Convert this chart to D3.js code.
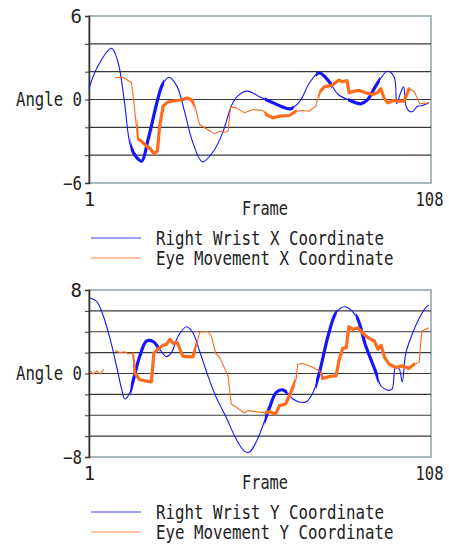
<!DOCTYPE html>
<html>
<head>
<meta charset="utf-8">
<script src="https://cdn.jsdelivr.net/npm/d3@7"></script>
<style>
  body { margin: 0; background: #fff; }
  text { font-family: "DejaVu Sans Mono", monospace; font-size: 19px; fill: #222; }
</style>
</head>
<body>
<svg id="chart" width="449" height="544"></svg>
<script>
// frame / angle pairs
const wristX = [[1,0.77],[3.5,2.28],[8,3.68],[10,2.75],[12,0],[14,-3.35],[16,-4.19],[17.5,-4.43],[19.5,-2.87],
  [22.5,0],[24,1.08],[26,1.6],[28.5,0.96],[31,-0.96],[33.5,-3.1],[36.5,-4.48],[40,-3.7],[43,-2.28],[45.5,-0.48],
  [47.5,0.24],[50.5,0.6],[54,0.24],[57.5,-0.12],[61,-0.48],[64,-0.67],[67,-0.12],[70,1.2],[73,1.92],[76,1.32],
  [79,0.36],[82.5,-0.05],[86,-0.31],[88,-0.05],[91,1.08],[94.4,2.03],[96.5,1.6],[97.3,-0.3],[98.3,0.36],
  [99.4,0.91],[100.2,-0.5],[101.2,-0.84],[102.3,-0.86],[103.7,-0.5],[105.3,-0.43],[107.4,-0.24]];
const eyeX = [[9,1.56],[11.7,1.6],[14.3,1.2],[15.3,-0.72],[16.2,-2.83],[17.4,-3.0],[19,-3.35],[20.2,-3.55],
  [21.3,-3.88],[22.4,-3.71],[23.1,-1.92],[24.2,-0.48],[25.7,-0.17],[28.4,-0.07],[30.4,0],[31.5,0.1],[33,0],
  [34.1,-0.43],[35.6,-1.8],[37.7,-2.1],[40.3,-2.47],[41.9,-2.28],[43.4,-2.35],[44.5,-2.28],[45.3,-0.53],
  [47.1,-0.6],[49.7,-0.96],[52.3,-0.72],[55.4,-0.79],[56.4,-1.08],[58.5,-1.32],[60.6,-1.2],[63.7,-1.15],
  [65.8,-0.84],[67.8,-0.79],[69.9,-0.84],[72,-0.48],[73,0.48],[74.6,0.91],[77.2,1.03],[78.3,1.25],[79.3,1.39],
  [80.3,1.27],[81.7,1.36],[82.4,0.48],[84,0.6],[85.5,0.65],[87.6,0.48],[89.7,0.36],[91.2,0.48],[92.3,0.77],
  [93.3,0.12],[94.4,-0.24],[96.4,-0.07],[98,-0.12],[99.6,-0.12],[101.1,0.77],[102.7,0.6],[104.5,-0.31],[107.3,-0.24]];
const wristY = [[1.3,7.24],[3.4,6.92],[5.5,5.49],[7.5,3.43],[9.6,0.73],[11.2,-1.49],[12.2,-2.44],[13.6,-1.97],
  [14.8,-0.7],[16.9,1.68],[19,3.11],[21.1,3.05],[23.1,2.32],[25.2,1.62],[26.8,2.0],[28.9,3.59],[31.5,4.48],
  [33.5,3.9],[35.6,2.16],[38.2,-0.22],[40.8,-2.29],[43.9,-4.19],[47,-6.25],[49.7,-7.46],[51.2,-7.52],
  [53.3,-6.57],[55.4,-4.98],[57.5,-3.24],[59.6,-1.81],[61.6,-1.56],[62.9,-1.81],[64.8,-2.44],[67.3,-2.76],
  [69,-2.7],[71.1,-1.81],[73.1,0.1],[75.8,3.59],[78.3,5.81],[81,6.39],[84.6,5.49],[87.6,2.63],[90.8,0.1],
  [92.4,-1.2],[94.4,-1.6],[95.8,-1.5],[96.9,0.64],[98,0.48],[99,-0.8],[100.1,1.92],[102.2,3.83],
  [104.8,5.58],[106.8,6.45],[107.4,6.54]];
const eyeY = [[1.3,0.25],[2.3,-0.06],[3.4,0.25],[4.4,-0.06],[5.6,0.41],[7,null],
  [9.1,2.2],[10.7,2.0],[12.2,2.08],[13.3,1.9],[14.6,1.94],[15.3,0.05],[16.9,-0.6],[18.5,-0.7],[20.5,-0.8],
  [21.3,1.95],[22.6,2.35],[24.2,2.7],[25.2,2.79],[26.3,3.27],[27.3,2.89],[28.6,2.95],[30.4,1.64],[32,1.62],
  [33.5,1.6],[34.6,2.63],[35.6,3.97],[38.2,4.03],[39.3,3.59],[40.6,1.94],[41.9,1.52],[44.5,-0.22],[45.5,-2.92],
  [47.1,-3.24],[49.7,-3.78],[50.7,-3.56],[53.3,-3.65],[55.9,-3.78],[57.5,-3.65],[59.4,-3.9],[60.6,-3.08],
  [62.5,-2.92],[63.7,-2.13],[65.8,-0.54],[66.3,0.89],[67.9,0.95],[70.5,0.67],[73.1,0.25],[74.1,-0.48],
  [76.2,-0.29],[78.3,-0.22],[79.3,1.37],[80.4,2.41],[81.5,2.48],[82.3,4.48],[83.6,4.22],[85.1,4.38],
  [86.7,3.84],[88.3,3.43],[90.3,3.11],[91.4,2.32],[92.4,2.7],[93.5,1.52],[94.9,0.89],[97,0.57],[99.1,0.73],
  [101.1,0.48],[102.7,0.89],[104.3,1.05],[105.1,4.06],[107.4,4.38]];

// frame spans drawn with the heavy stroke
const wristXBold = [[14,24.5],[56,65],[72,77],[82,92]];
const eyeXBold = [[16,34],[56,66],[73,101.5]];
const wristYBold = [[14,23],[56,63],[72,78.5],[84.5,91.5]];
const eyeYBold = [[14.8,34.5],[56,65.5],[73.5,103]];

const frameTicks = [1, 108];
const blue = '#1414ff', orange = '#ff6a1c';

const svg = d3.select('#chart');
const left = 89, right = 431;

function panel(id, top, bottom, maxAbs, wrist, eye, wristBold, eyeBold, axisName) {
  const x = d3.scaleLinear().domain([1, 108]).range([left, right]);
  const y = d3.scaleLinear().domain([-maxAbs, maxAbs]).range([bottom, top]);
  const g = svg.append('g');
  const steps = d3.range(-maxAbs, maxAbs + 1, 2);

  g.append('rect').attr('x', left).attr('y', top).attr('width', right - left).attr('height', bottom - top)
    .attr('fill', '#fff').attr('stroke', '#8ea2aa').attr('stroke-width', 1.5);

  // horizontal grid
  g.selectAll('.grid').data(steps.filter(v => Math.abs(v) !== maxAbs)).enter()
    .append('line')
    .attr('x1', left).attr('x2', right)
    .attr('y1', d => y(d)).attr('y2', d => y(d))
    .attr('stroke', '#3a3a3a').attr('stroke-width', 1.2);

  // y axis, the axis name sits in front of the 0 label
  const yAxis = g.append('g').attr('transform', `translate(${left},0)`)
    .call(d3.axisLeft(y).tickValues(steps).tickSize(4).tickSizeOuter(4).tickPadding(3)
      .tickFormat(d => d === 0 ? 'Angle 0' : Math.abs(d) === maxAbs ? d3.format('d')(d) : ''));
  yAxis.select('.domain').attr('stroke', '#333').attr('stroke-width', 1.6);
  yAxis.selectAll('.tick line').attr('stroke', '#333');
  yAxis.selectAll('text').style('font-size', '19px').attr('fill', '#222');
  yAxis.selectAll('text').filter(d => d < 0).attr('textLength', 19).attr('lengthAdjust', 'spacingAndGlyphs');
  yAxis.selectAll('text').filter(d => d === 0).attr('textLength', 66).attr('lengthAdjust', 'spacingAndGlyphs');

  // x axis labels
  const xAxis = g.append('g').attr('transform', `translate(0,${bottom})`)
    .call(d3.axisBottom(x).tickValues(frameTicks).tickSize(0).tickPadding(10));
  xAxis.select('.domain').remove();
  xAxis.selectAll('text').style('font-size', '19px').attr('fill', '#222')
    .filter(d => d === 108)
    .attr('text-anchor', 'end').attr('dx', 12)
    .attr('textLength', 28).attr('lengthAdjust', 'spacingAndGlyphs');

  g.append('text').attr('x', 265).attr('y', bottom + 32).attr('text-anchor', 'middle')
    .attr('textLength', 46).attr('lengthAdjust', 'spacingAndGlyphs').text('Frame');

  // series: thin full path, then the same path clipped to the bold spans
  const line = d3.line().defined(d => d[1] !== null).x(d => x(d[0])).y(d => y(d[1]));
  const smooth = d3.line().x(d => x(d[0])).y(d => y(d[1])).curve(d3.curveCatmullRom.alpha(0.5));

  function series(data, gen, color, bold, key) {
    const clip = g.append('clipPath').attr('id', id + key);
    clip.selectAll('rect').data(bold).enter().append('rect')
      .attr('x', d => x(d[0])).attr('width', d => x(d[1]) - x(d[0]))
      .attr('y', top - 5).attr('height', bottom - top + 10);
    g.append('path').datum(data).attr('d', gen).attr('fill', 'none')
      .attr('stroke', color).attr('stroke-width', 1.1).attr('stroke-linejoin', 'round');
    g.append('path').datum(data).attr('d', gen).attr('fill', 'none')
      .attr('stroke', color).attr('stroke-width', 3.2).attr('stroke-linejoin', 'round')
      .attr('clip-path', `url(#${id + key})`);
  }
  series(wrist, smooth, blue, wristBold, 'w');
  series(eye, line, orange, eyeBold, 'e');

  // legend
  const legend = [['Right Wrist ' + axisName + ' Coordinate', blue, 24],
                  ['Eye Movement ' + axisName + ' Coordinate', orange, 25]];
  legend.forEach((d, i) => {
    const ly = bottom + 55 + i * 20;
    g.append('line').attr('x1', 91).attr('x2', 141).attr('y1', ly).attr('y2', ly)
      .attr('stroke', d[1]).attr('stroke-width', 1.2).attr('opacity', 0.8);
    g.append('text').attr('x', 156).attr('y', ly + 7)
      .attr('textLength', d[2] * 9.5).attr('lengthAdjust', 'spacingAndGlyphs').text(d[0]);
  });
}

panel('p1', 16, 183, 6, wristX, eyeX, wristXBold, eyeXBold, 'X');
panel('p2', 290, 457, 8, wristY, eyeY, wristYBold, eyeYBold, 'Y');
</script>
</body>
</html>
